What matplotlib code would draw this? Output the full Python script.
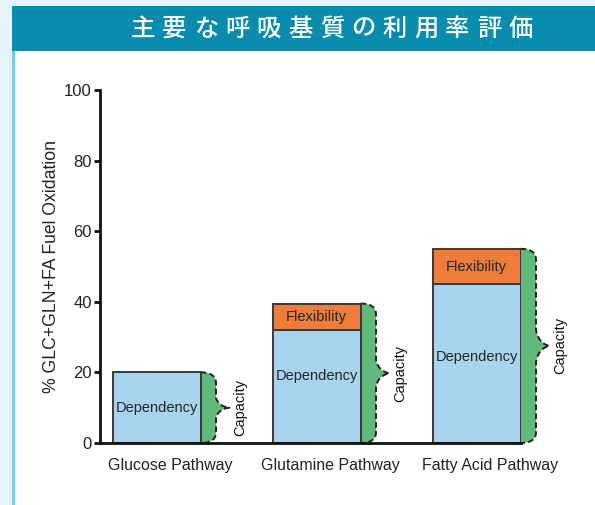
import numpy as np
import matplotlib
matplotlib.use("Agg")
import matplotlib.pyplot as plt
from matplotlib.patches import Rectangle

#------------------------- DATA -------------------------
title = "主要な呼吸基質の利用率評価"
pathways = ["Glucose Pathway", "Glutamine Pathway", "Fatty Acid Pathway"]
dependency = [20, 32, 45]
flexibility = [0, 7.5, 10]
dep_label_y = [10, 19, 24.5]
ylabel = "% GLC+GLN+FA Fuel Oxidation"

#------------------------- STYLE ------------------------
W, H = 595, 505
blue = "#a8d5ee"
orange = "#ee7d3b"
green = "#62b97b"
edge = "#3a3a3a"
teal = "#0a8cae"
font = "Liberation Sans"

PX_X = 160.0   # pixels per x unit
PX_Y = 3.53    # pixels per y unit
bar_w = 88 / PX_X

fig = plt.figure(figsize=(W / 100, H / 100), dpi=100)
fig.patch.set_facecolor("#e4f2fa")


def fig_rect(x, y, w, h, color):
    # x, y, w, h in image pixels (y from top)
    fig.add_artist(Rectangle((x / W, 1 - (y + h) / H), w / W, h / H,
                             transform=fig.transFigure, facecolor=color,
                             edgecolor="none", zorder=0))


fig_rect(14, 51, W - 14, H - 51, "white")
fig_rect(12, 51, 2.5, H - 51, "#7ccbe3")
fig_rect(12, 6, W - 12, 45, teal)
for i, ch in enumerate(title):
    fig.text((143 + i * 31.45) / W, 1 - 28.5 / H, ch, color="white",
             fontsize=17.5, family=["Noto Sans CJK JP", "DejaVu Sans"],
             ha="center", va="center", weight="medium")

# axes: left edge at px 100, bottom at 443, top at 90, right at 521
ax = fig.add_axes([100 / W, (H - 443) / H, (521 - 100) / W, (443 - 90) / H])
ax.set_facecolor("none")
x = np.arange(len(pathways))
ax.set_xlim(-56.5 / PX_X, (521 - 156.5) / PX_X)
ax.set_ylim(0, 100)


def brace(x0, y0, y1):
    h_px = (y1 - y0) * PX_Y
    w1, w2 = 15.5 / PX_X, 29 / PX_X
    r = 11 / PX_Y
    t = (6 + 0.05 * h_px) / PX_Y
    mid = (y0 + y1) / 2
    s = np.linspace(0, 1, 24)[:, None]

    def quad(p0, c, p2):
        p0, c, p2 = map(np.array, (p0, c, p2))
        return (1 - s) ** 2 * p0 + 2 * (1 - s) * s * c + s ** 2 * p2

    kx = x0 + w1 + 0.2 * (w2 - w1)
    pts = np.vstack([
        quad((x0, y1), (x0 + w1, y1), (x0 + w1, y1 - r)),
        quad((x0 + w1, mid + t), (kx, mid + 0.15 * t), (x0 + w2, mid)),
        quad((x0 + w2, mid), (kx, mid - 0.15 * t), (x0 + w1, mid - t)),
        quad((x0 + w1, y0 + r), (x0 + w1, y0), (x0, y0)),
    ])
    ax.fill(pts[:, 0], pts[:, 1], color=green, lw=0, clip_on=False, zorder=1)
    ax.plot(pts[:, 0], pts[:, 1], color="#222222", lw=1.4,
            dashes=(3, 1.6), clip_on=False, zorder=2)


for i in range(len(pathways)):
    dep, flex = dependency[i], flexibility[i]
    ax.bar(x[i], dep, width=bar_w, color=blue, edgecolor=edge, lw=1.4, zorder=3)
    ax.text(x[i], dep_label_y[i], "Dependency", ha="center", va="center",
            fontsize=10.5, family=font, color="#262626", zorder=5)
    if flex > 0:
        ax.bar(x[i], flex, bottom=dep, width=bar_w, color=orange,
               edgecolor=edge, lw=1.4, zorder=3)
        ax.text(x[i], dep + flex / 2, "Flexibility", ha="center", va="center",
                fontsize=10.5, family=font, color="#262626", zorder=5)
    total = dep + flex
    right = x[i] + bar_w / 2
    brace(right, 0, total)
    ax.text(right + 40 / PX_X, total / 2, "Capacity", rotation=90,
            ha="center", va="center", fontsize=10.5, family=font,
            color="#111111", clip_on=False)

ax.set_xticks(x + 14 / PX_X)
ax.set_xticklabels(pathways, fontsize=11.5, family=font, color="#222222")
ax.tick_params(axis="x", length=0, pad=11)
ax.set_yticks([0, 20, 40, 60, 80, 100])
ax.tick_params(axis="y", length=4, width=2, pad=2, labelsize=12,
               labelcolor="#222222", color="#111111")
for lab in ax.get_yticklabels():
    lab.set_family(font)
ax.set_ylabel(ylabel, fontsize=12.7, family=font, color="#222222", labelpad=3)
for side in ["top", "right"]:
    ax.spines[side].set_visible(False)
for side in ["left", "bottom"]:
    ax.spines[side].set_linewidth(2)
    ax.spines[side].set_color("#111111")
    ax.spines[side].set_zorder(4)

fig.savefig("out.png", dpi=100)
